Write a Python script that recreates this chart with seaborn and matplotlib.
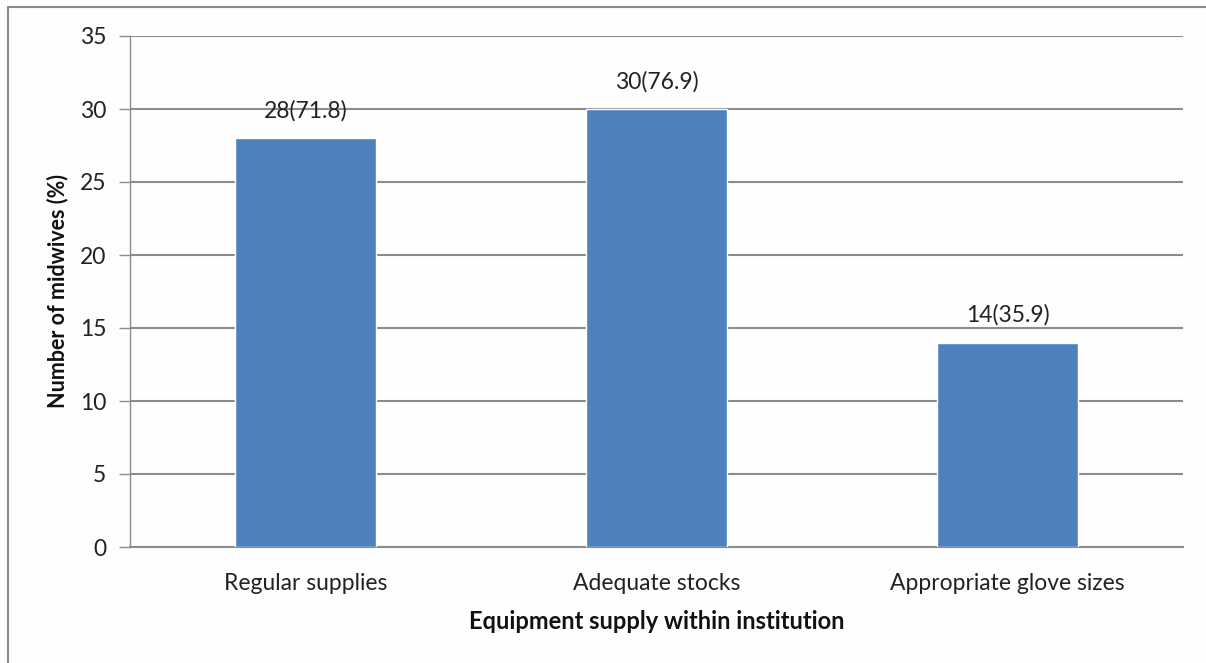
import matplotlib
matplotlib.use("Agg")
import matplotlib.pyplot as plt
import seaborn as sns
import pandas as pd
from matplotlib.lines import Line2D

# Chart data
categories = ["Regular supplies", "Adequate stocks", "Appropriate glove sizes"]
counts = [28, 30, 14]
percents = [71.8, 76.9, 35.9]
y_ticks = [0, 5, 10, 15, 20, 25, 30, 35]

df = pd.DataFrame({"category": categories, "count": counts})

sns.set_theme(style="white")
plt.rcParams["font.family"] = ["Lato", "DejaVu Sans"]

fig = plt.figure(figsize=(12.06, 6.63), dpi=100, facecolor="#fefefe")
ax = fig.add_axes([130 / 1206, 1 - 547 / 663, 1053 / 1206, 511 / 663])
ax.set_facecolor("#fefefe")

sns.barplot(data=df, x="category", y="count", color="#4f81bd", width=0.4,
            saturation=1, ax=ax, zorder=3)

# Labels above bars
for i, (c, p) in enumerate(zip(counts, percents)):
    ax.text(i, c + 1.15, f"{c}({p})", ha="center", va="bottom", fontsize=16.5, color="#222222")

ax.set_ylim(0, 35)
ax.set_xlim(-0.5, 2.5)
ax.set_yticks(y_ticks)
ax.yaxis.grid(True, color="#8c8c8c", linewidth=1.5, zorder=0)
ax.set_axisbelow(True)

for s in ["top", "right"]:
    ax.spines[s].set_visible(False)
ax.spines["left"].set_color("#8c8c8c")
ax.spines["left"].set_linewidth(1.0)
ax.spines["bottom"].set_color("#8c8c8c")
ax.spines["bottom"].set_linewidth(1.5)

ax.tick_params(axis="y", which="both", left=True, length=8, width=1.0, color="#8c8c8c",
               labelsize=16.5, labelcolor="#222222", pad=9)
ax.tick_params(axis="x", bottom=False, labelsize=16.5, labelcolor="#222222", pad=13)

ax.set_xlabel("Equipment supply within institution", fontsize=17, fontweight="bold",
              color="#111111", labelpad=11)
ax.set_ylabel("Number of midwives (%)", fontsize=15.5, fontweight="bold",
              color="#111111", labelpad=8)

# Outer chart border (top and left visible)
fig.add_artist(Line2D([8 / 1206, 8 / 1206], [0, 1 - 7 / 663], transform=fig.transFigure,
                      color="#8a8a8a", linewidth=1.5))
fig.add_artist(Line2D([8 / 1206, 1], [1 - 7 / 663, 1 - 7 / 663], transform=fig.transFigure,
                      color="#8a8a8a", linewidth=1.5))

fig.savefig("out.png", dpi=100, facecolor=fig.get_facecolor())
